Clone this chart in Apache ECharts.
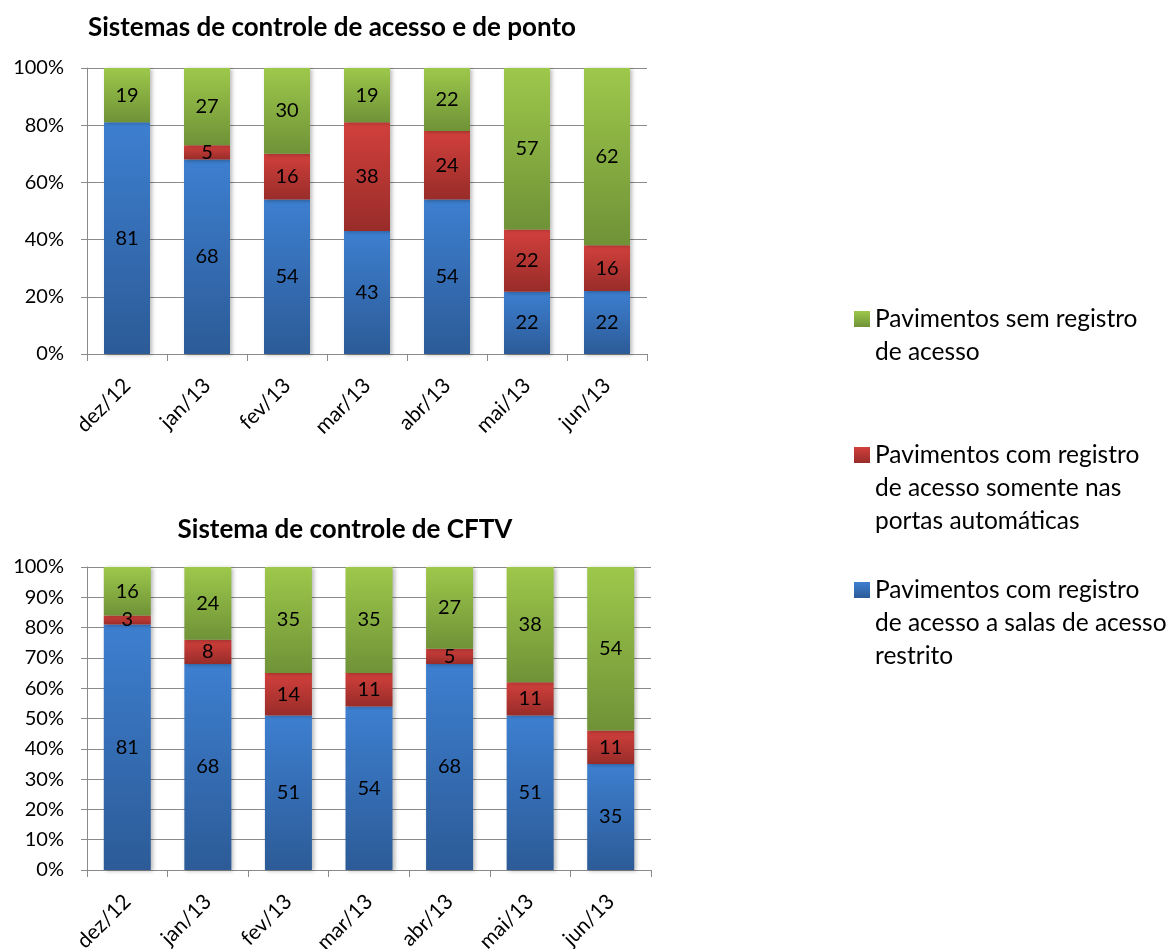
<!DOCTYPE html>
<html>
<head>
<meta charset="utf-8">
<script src="https://cdn.jsdelivr.net/npm/echarts@6/dist/echarts.min.js"></script>
<style>
html,body{margin:0;padding:0;background:#fff;}
#chart{width:1172px;height:949px;}
</style>
</head>
<body>
<div id="chart"></div>
<script>
// ---- data ----
var categories = ['dez/12','jan/13','fev/13','mar/13','abr/13','mai/13','jun/13'];
var titleTop = 'Sistemas de controle de acesso e de ponto';
var titleBottom = 'Sistema de controle de CFTV';
var seriesNames = [
  'Pavimentos com registro de acesso a salas de acesso restrito',
  'Pavimentos com registro de acesso somente nas portas automáticas',
  'Pavimentos sem registro de acesso'
];
var legendLabels = [
  'Pavimentos com registro\nde acesso a salas de acesso\nrestrito',
  'Pavimentos com registro\nde acesso somente nas\nportas automáticas',
  'Pavimentos sem registro\nde acesso'
];
// top chart (access & time control)
var topRestrito = [81, 68, 54, 43, 54, 22, 22];
var topPortas   = [0, 5, 16, 38, 24, 22, 16];
var topSem      = [19, 27, 30, 19, 22, 57, 62];
// bottom chart (CFTV)
var botRestrito = [81, 68, 51, 54, 68, 51, 35];
var botPortas   = [3, 8, 14, 11, 5, 11, 11];
var botSem      = [16, 24, 35, 35, 27, 38, 54];
var yTicksTop = [0, 20, 40, 60, 80, 100];
var yTicksBottom = [0, 10, 20, 30, 40, 50, 60, 70, 80, 90, 100];

// ---- styling ----
var FONT = 'Lato';
var gridColor = '#8a8a8a';
function grad(c1, c2) {
  return new echarts.graphic.LinearGradient(0, 0, 0, 1, [
    {offset: 0, color: c1}, {offset: 1, color: c2}
  ]);
}
var colors = [
  grad('#3d7fd0', '#2c5b97'),
  grad('#d2403c', '#982c29'),
  grad('#9dc84b', '#6f9237')
];

function pct(groups) {
  var totals = categories.map(function (_, i) {
    return groups.reduce(function (s, g) { return s + g[i]; }, 0);
  });
  return groups.map(function (g) {
    return g.map(function (v, i) { return v / totals[i] * 100; });
  });
}

function makeSeries(groups, axisIdx, barWidth) {
  var p = pct(groups);
  return groups.map(function (g, k) {
    return {
      name: seriesNames[k],
      type: 'bar',
      stack: 's' + axisIdx,
      xAxisIndex: axisIdx,
      yAxisIndex: axisIdx,
      barWidth: barWidth,
      itemStyle: {
        color: colors[k],
        shadowColor: 'rgba(0,0,0,0.28)',
        shadowBlur: 4,
        shadowOffsetX: 2,
        shadowOffsetY: 1
      },
      label: {
        show: true,
        position: 'inside',
        color: '#000',
        fontFamily: FONT,
        fontSize: 20,
        formatter: function (prm) {
          var v = g[prm.dataIndex];
          return v === 0 ? '' : String(v);
        }
      },
      data: p[k]
    };
  });
}

function yAxis(idx, ticks) {
  return {
    type: 'value',
    gridIndex: idx,
    min: ticks[0],
    max: ticks[ticks.length - 1],
    interval: ticks[1] - ticks[0],
    axisLine: {show: true, lineStyle: {color: gridColor, width: 1}},
    axisTick: {show: true, length: 6, lineStyle: {color: gridColor}},
    splitLine: {show: true, lineStyle: {color: gridColor, width: 1}},
    axisLabel: {
      formatter: '{value}%',
      color: '#000',
      fontFamily: FONT,
      fontSize: 20,
      margin: 23
    }
  };
}
function xAxis(idx) {
  return {
    type: 'category',
    gridIndex: idx,
    data: categories,
    axisLine: {show: true, lineStyle: {color: gridColor, width: 1}},
    axisTick: {show: true, length: 7, alignWithLabel: false, interval: 0, lineStyle: {color: gridColor}},
    axisLabel: {
      interval: 0,
      rotate: 45,
      color: '#000',
      fontFamily: FONT,
      fontSize: 21,
      margin: 28
    }
  };
}

function legendFor(k, top, nLines) {
  var pre = new Array(nLines).join('\n');
  return {
    show: true,
    data: [seriesNames[k]],
    left: 854,
    top: top,
    padding: 0,
    orient: 'vertical',
    icon: 'rect',
    itemWidth: 16,
    itemHeight: 16,
    itemGap: 0,
    selectedMode: false,
    formatter: function () { return pre + legendLabels[k]; },
    textStyle: {
      color: '#000',
      fontFamily: FONT,
      fontSize: 24.5,
      lineHeight: 33
    }
  };
}

var chart = echarts.init(document.getElementById('chart'), null, {renderer: 'canvas'});
var option = {
  backgroundColor: '#fff',
  animation: false,
  title: [
    {
      text: titleTop, left: 332, top: 15, textAlign: 'center', padding: 0,
      textStyle: {fontFamily: FONT, fontWeight: 'bold', fontSize: 26, color: '#000'}
    },
    {
      text: titleBottom, left: 345, top: 517, textAlign: 'center', padding: 0,
      textStyle: {fontFamily: FONT, fontWeight: 'bold', fontSize: 26, color: '#000'}
    }
  ],
  legend: [
    legendFor(2, 269.5, 2),
    legendFor(1, 372.5, 3),
    legendFor(0, 507.5, 3)
  ],
  grid: [
    {left: 87, top: 68, width: 560, height: 286, containLabel: false, outerBoundsMode: 'none'},
    {left: 87, top: 567, width: 564, height: 303, containLabel: false, outerBoundsMode: 'none'}
  ],
  xAxis: [xAxis(0), xAxis(1)],
  yAxis: [yAxis(0, yTicksTop), yAxis(1, yTicksBottom)],
  series: makeSeries([topRestrito, topPortas, topSem], 0, 46)
    .concat(makeSeries([botRestrito, botPortas, botSem], 1, 47))
};
chart.setOption(option);
</script>
</body>
</html>
